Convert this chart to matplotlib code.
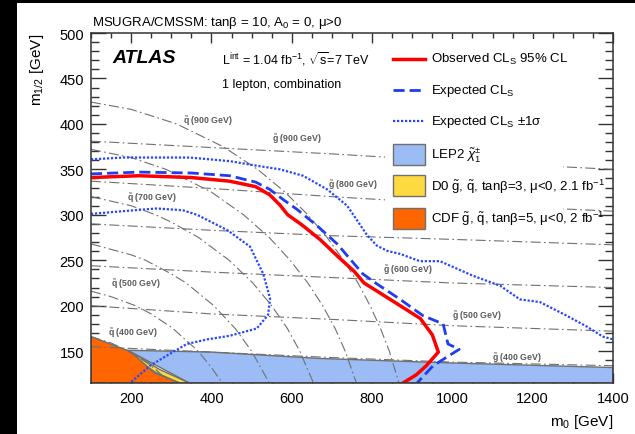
import matplotlib
matplotlib.use('Agg')
import matplotlib.pyplot as plt
from matplotlib.patches import Rectangle, Polygon
from matplotlib.lines import Line2D
from matplotlib.ticker import MultipleLocator

plt.rcParams['font.family'] = ['Liberation Sans', 'DejaVu Sans']
plt.rcParams['mathtext.fontset'] = 'custom'
plt.rcParams['mathtext.rm'] = 'Liberation Sans'
plt.rcParams['mathtext.it'] = 'Liberation Sans:italic'
plt.rcParams['mathtext.bf'] = 'Liberation Sans:bold'

# limits in the (m0, m1/2) plane, GeV
obs_m0 = [100, 220, 350, 445, 510, 545, 570, 590, 625, 670, 720, 755, 780, 845, 920, 950, 965, 935, 910, 877]
obs_m12 = [341, 343, 341, 337, 331, 322, 311, 300, 289, 273, 252, 238, 225, 207, 186, 168, 149, 134, 124, 115]

exp_m0 = [100, 220, 350, 445, 510, 545, 578, 613, 663, 713, 777, 812, 870, 927, 977, 989, 1017, 995, 952, 912]
exp_m12 = [345, 347, 346, 343, 336, 328, 317, 306, 288, 268, 235, 224, 207, 189, 180, 158, 152, 146, 134, 115]

up_m0 = [100, 180, 264, 346, 446, 513, 571, 628, 688, 738, 787, 812, 840, 870, 919, 969, 1051, 1119, 1168, 1218, 1285, 1335, 1375, 1400]
up_m12 = [361, 363, 363, 363, 359, 354, 350, 343, 328, 310, 278, 266, 260, 257, 249, 249, 233, 222, 207, 204, 189, 177, 166, 163]

dn_m0 = [100, 180, 264, 329, 364, 400, 440, 496, 529, 546, 541, 513, 446, 390, 339, 300, 247, 200]
dn_m12 = [301, 304, 307, 305, 300, 292, 283, 265, 235, 208, 190, 175, 167, 163, 158, 148, 134, 116]

# excluded regions from earlier experiments
lep_m0 = [192, 400, 670, 1000, 1400, 1400, 345]
lep_m12 = [151, 149, 142, 137, 132, 115, 115]
d0_m0 = [190, 230, 270, 345, 320, 260, 230, 200]
d0_m12 = [151, 141, 130, 115, 115, 127, 136, 148]
cdf_m0 = [100, 100, 190, 205, 258, 322]
cdf_m12 = [115, 166, 151, 147, 126, 115]

# squark iso-mass contours
squark_masses = [900, 800, 700, 600, 500, 400]
squark_m0 = [
    [100, 200, 313, 429, 515, 583, 640, 688, 729, 765, 795, 821, 843, 867],
    [100, 200, 287, 400, 480, 544, 596, 640, 677, 708, 733, 761],
    [100, 200, 261, 300, 368, 444, 503, 550, 589, 620, 654],
    [100, 200, 236, 300, 337, 406, 459, 500, 544],
    [100, 150, 211, 250, 304, 367, 400, 427],
    [100, 150, 194, 240, 261, 297],
]
squark_m12 = [
    [424, 416, 400, 375, 350, 325, 300, 275, 250, 225, 200, 175, 150, 115],
    [372, 363, 350, 325, 300, 275, 250, 225, 200, 175, 150, 115],
    [320, 310, 300, 292, 275, 250, 225, 200, 175, 150, 115],
    [268, 256, 250, 235, 225, 200, 175, 150, 115],
    [216, 210, 200, 191, 175, 150, 132, 115],
    [166, 159, 150, 137, 130, 115],
]

# gluino iso-mass contours
gluino_masses = [900, 800, 700, 600, 500, 400]
gluino_m0 = [100, 400, 700, 1000, 1400]
gluino_m12 = [
    [381, 374, 367, 359, 350],
    [337, 329, 320, 312, 304],
    [290, 283, 277, 273, 267],
    [244, 237, 231, 225, 220],
    [200, 191, 185, 178, 172],
    [155, 149, 143, 138, 134],
]

# where the contour names are written
squark_label_pos = {900: (329, 404), 700: (190, 320), 500: (150, 225), 400: (142, 171)}
gluino_label_pos = {900: (551, 384), 800: (690, 334), 600: (827, 240), 500: (999, 190), 400: (1099, 144)}

fig = plt.figure(figsize=(6.35, 4.35), dpi=100)
ax = fig.add_axes([91 / 635, 51 / 435, 522 / 635, 350 / 435])

ax.add_patch(Polygon(list(zip(lep_m0, lep_m12)), closed=True, fc='#9bbcf5', ec='#707070', lw=1.0, zorder=2))
ax.add_patch(Polygon(list(zip(d0_m0, d0_m12)), closed=True, fc='#ffd940', ec='#707070', lw=1.0, zorder=2))
ax.add_patch(Polygon(list(zip(cdf_m0, cdf_m12)), closed=True, fc='#ff6600', ec='#707070', lw=1.0, zorder=2.1))

dashdot = (0, (9, 3, 1.5, 3))
for xs, ys in zip(squark_m0, squark_m12):
    ax.plot(xs, ys, color='#707070', lw=0.8, ls=dashdot, zorder=3)
for ys in gluino_m12:
    ax.plot(gluino_m0, ys, color='#707070', lw=0.8, ls=dashdot, zorder=3)

for m, (x, y) in squark_label_pos.items():
    ax.text(x, y, r'$\tilde{\mathbf{q}}$ (%d GeV)' % m, fontsize=6.3, fontweight='bold', color='#5a5a5a', va='center', zorder=3)
for m, (x, y) in gluino_label_pos.items():
    ax.text(x, y, r'$\tilde{\mathbf{g}}$ (%d GeV)' % m, fontsize=6.3, fontweight='bold', color='#5a5a5a', va='center', zorder=3)

ax.plot(up_m0, up_m12, color='#2447ff', lw=1.6, ls=(0, (1, 0.8)), zorder=4)
ax.plot(dn_m0, dn_m12, color='#2447ff', lw=1.6, ls=(0, (1, 0.8)), zorder=4)
ax.plot(exp_m0, exp_m12, color='#1f3cf0', lw=2.0, ls=(0, (4, 1.8)), zorder=5)
ax.plot(obs_m0, obs_m12, color='#ff0000', lw=2.5, zorder=6)

ax.set_xlim(100, 1400)
ax.set_ylim(115, 500)
ax.xaxis.set_major_locator(MultipleLocator(200))
ax.xaxis.set_minor_locator(MultipleLocator(50))
ax.yaxis.set_major_locator(MultipleLocator(50))
ax.yaxis.set_minor_locator(MultipleLocator(10))
ax.tick_params(which='both', direction='in', top=True, right=True, width=1.0, color='#333333', labelsize=10.5)
ax.tick_params(axis='x', which='major', length=7.5, pad=6)
ax.tick_params(axis='x', which='minor', length=3.8)
ax.tick_params(axis='y', which='major', length=11, pad=5)
ax.tick_params(axis='y', which='minor', length=5.6)
for s in ax.spines.values():
    s.set_linewidth(1.1)
    s.set_color('#333333')
    s.set_zorder(8)

ax.set_xlabel(r'm$_0$ [GeV]', fontsize=11, loc='right')
ax.xaxis.set_label_coords(1.0, -0.083)
ax.set_ylabel(r'm$_{1/2}$ [GeV]', fontsize=11, loc='top')
ax.yaxis.set_label_coords(-0.086, 1.0)

# legend: white box hiding the contours, then the entries
ax.add_patch(Rectangle((0.563, 0.426), 0.341, 0.557, transform=ax.transAxes, fc='white', ec='none', zorder=7))
rows = [0.926, 0.837, 0.749, 0.654, 0.563, 0.471]
labels = [r'Observed CL$_\mathrm{S}$ 95% CL', r'Expected CL$_\mathrm{S}$', r'Expected CL$_\mathrm{S}$ $\pm$1σ',
          r'LEP2 $\tilde{\chi}^{\pm}_{1}$', r'D0 $\tilde{\mathrm{g}}$, $\tilde{\mathrm{q}}$, tanβ=3, μ<0, 2.1 fb$^{-1}$',
          r'CDF $\tilde{\mathrm{g}}$, $\tilde{\mathrm{q}}$, tanβ=5, μ<0, 2 fb$^{-1}$']
hx0, hx1 = 0.5785, 0.640
ax.add_line(Line2D([hx0, hx1], [rows[0]] * 2, transform=ax.transAxes, color='#ff0000', lw=2.5, zorder=8))
ax.add_line(Line2D([hx0, hx1], [rows[1]] * 2, transform=ax.transAxes, color='#1f3cf0', lw=2.0, ls=(0, (4, 1.8)), zorder=8))
ax.add_line(Line2D([hx0, hx1], [rows[2]] * 2, transform=ax.transAxes, color='#2447ff', lw=1.6, ls=(0, (1, 0.8)), zorder=8))
for r, c in zip(rows[3:], ['#9bbcf5', '#ffd940', '#ff6600']):
    ax.add_patch(Rectangle((hx0, r - 0.03), hx1 - hx0, 0.06, transform=ax.transAxes, fc=c, ec='#707070', lw=1.0, zorder=8))
for r, t in zip(rows, labels):
    ax.text(0.651, r, t, transform=ax.transAxes, fontsize=9.5, va='center', ha='left', zorder=9)

fig.text(92 / 635, 1 - 26 / 435, r'MSUGRA/CMSSM: tanβ = 10, A$_0$ = 0, μ>0', fontsize=9.5, va='baseline')
fig.text(112 / 635, 1 - 63 / 435, 'ATLAS', fontsize=14, fontweight='bold', fontstyle='italic', va='baseline')
fig.text(222 / 635, 1 - 65 / 435, r'L$^\mathrm{int}$ = 1.04 fb$^{-1}$, $\sqrt{\mathrm{s}}$=7 TeV', fontsize=9, va='baseline')
fig.text(222 / 635, 1 - 88 / 435, '1 lepton, combination', fontsize=9, va='baseline')

fig.patches.append(Rectangle((0, 0), 17 / 635, 1, transform=fig.transFigure, fc='black', ec='none'))
fig.patches.append(Rectangle((0, 1 - 4 / 435), 1, 4 / 435, transform=fig.transFigure, fc='black', ec='none'))

fig.savefig('out.png', dpi=100)
